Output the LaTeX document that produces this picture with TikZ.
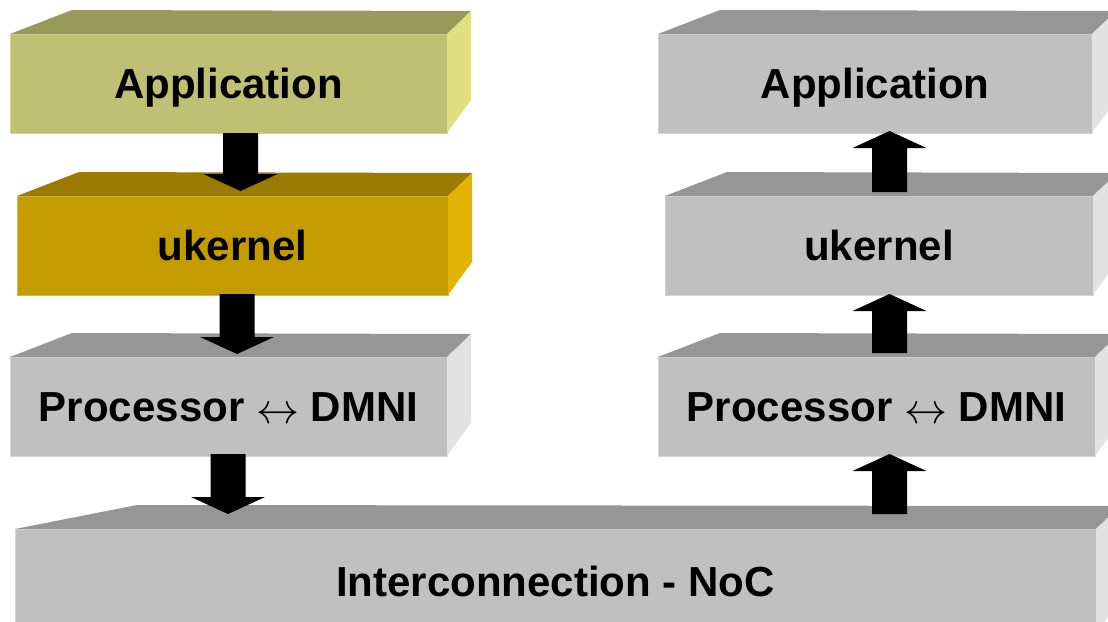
\RequirePackage{fix-cm}
\documentclass[tikz,border=0pt]{standalone}
\usepackage{graphicx}
\usepackage{fontspec}
\setmainfont{Liberation Sans}
\usetikzlibrary{calc}

% face colours: front (F), top (T), side (S)
\definecolor{appF}{RGB}{192,192,116}
\definecolor{appT}{RGB}{153,153,89}
\definecolor{appS}{RGB}{224,224,128}
\definecolor{ukF}{RGB}{196,156,0}
\definecolor{ukT}{RGB}{154,122,0}
\definecolor{ukS}{RGB}{226,179,0}
\definecolor{grF}{RGB}{192,192,192}
\definecolor{grT}{RGB}{150,150,150}
\definecolor{grS}{RGB}{226,226,226}

% thin two-headed arrow between the words
\newcommand\lrarr{\raisebox{-1.5pt}{\resizebox{43pt}{!}{$\leftrightarrow$}}}

\tikzset{
  slabface/.style={rectangle, inner sep=0pt, outer sep=0pt, line width=0.8pt,
    text height=30pt, text depth=0pt,
    font=\bfseries\fontsize{42}{42}\selectfont},
}

% 3-D slab: name, colour prefix, x-left, x-right, y-top, y-bottom, back-left x, label
\newcommand\slab[8]{%
  \node[slabface, fill=#2F, draw=#2F!70!white,
        minimum width={(#4-#3)*1pt}, minimum height={(#6-#5)*1pt}]
        (#1) at ({(#3+#4)/2},{(#5+#6)/2+1}) {#8};
  \fill[#2T] (#1.north west) -- (#7,{#5-23}) -- ($(#1.north east)+(24,-23)$)
             -- (#1.north east) -- cycle;
  \fill[#2S] (#1.north east) -- ($(#1.north east)+(24,-23)$)
             -- ($(#1.south east)+(24,-33)$) -- (#1.south east) -- cycle;
}

% block arrows between two named points (vertical)
\newcommand\downarrowblk[2]{%
  \fill[black] let \p1=(#1), \p2=(#2) in
    ({\x1-17.5pt},\y1) -- ({\x1+17.5pt},\y1) -- ({\x1+17.5pt},{\y2+17pt})
    -- ({\x1+37pt},{\y2+17pt}) -- (\x1,\y2) -- ({\x1-37pt},{\y2+17pt})
    -- ({\x1-17.5pt},{\y2+17pt}) -- cycle;}
\newcommand\uparrowblk[2]{%
  \fill[black] let \p1=(#1), \p2=(#2) in
    ({\x1-17.5pt},\y1) -- ({\x1+17.5pt},\y1) -- ({\x1+17.5pt},{\y2-17pt})
    -- ({\x1+37pt},{\y2-17pt}) -- (\x1,\y2) -- ({\x1-37pt},{\y2-17pt})
    -- ({\x1-17.5pt},{\y2-17pt}) -- cycle;}

\begin{document}
\begin{tikzpicture}[x=1pt,y=-1pt]
  \useasboundingbox (0,0) rectangle (1108,621);
  \clip (0,0) rectangle (1108,621);

  % sending side
  \slab{app1}{app}{10}{447}{33}{132}{72}{Application}
  \slab{uk1}{uk}{17}{448}{195}{294}{79}{ukernel}
  \slab{pr1}{gr}{10}{447}{356}{455}{72}{Processor \lrarr{} DMNI}

  % receiving side
  \slab{app2}{gr}{658}{1092}{33}{132}{720}{Application}
  \slab{uk2}{gr}{665}{1093}{195}{294}{727}{ukernel}
  \slab{pr2}{gr}{658}{1095}{356}{455}{720}{Processor \lrarr{} DMNI}

  % network
  \slab{noc}{gr}{15}{1096}{528}{632}{137}{Interconnection - NoC}

  % arrow end points
  \coordinate (a1s) at ($(app1.south)+(12,0)$);
  \coordinate (a1e) at ($(a1s |- uk1.north)+(0,-5)$);
  \coordinate (a2s) at ($(uk1.south)+(4.5,-1)$);
  \coordinate (a2e) at ($(a2s |- pr1.north)+(0,-3)$);
  \coordinate (a3s) at ($(pr1.south)+(-0.5,-2)$);
  \coordinate (a3e) at ($(a3s |- noc.north)+(0,-15)$);

  \coordinate (r1s) at ($(uk2.north)+(10.5,-4)$);
  \coordinate (r1e) at ($(r1s |- app2.south)+(0,-2)$);
  \coordinate (r2s) at ($(r1s |- pr2.north)+(0,-4)$);
  \coordinate (r2e) at ($(r1s |- uk2.south)+(0,-1)$);
  \coordinate (r3s) at ($(r1s |- noc.north)+(0,-15)$);
  \coordinate (r3e) at ($(r1s |- pr2.south)+(0,-2)$);

  \downarrowblk{a1s}{a1e}
  \downarrowblk{a2s}{a2e}
  \downarrowblk{a3s}{a3e}
  \uparrowblk{r1s}{r1e}
  \uparrowblk{r2s}{r2e}
  \uparrowblk{r3s}{r3e}
\end{tikzpicture}
\end{document}
